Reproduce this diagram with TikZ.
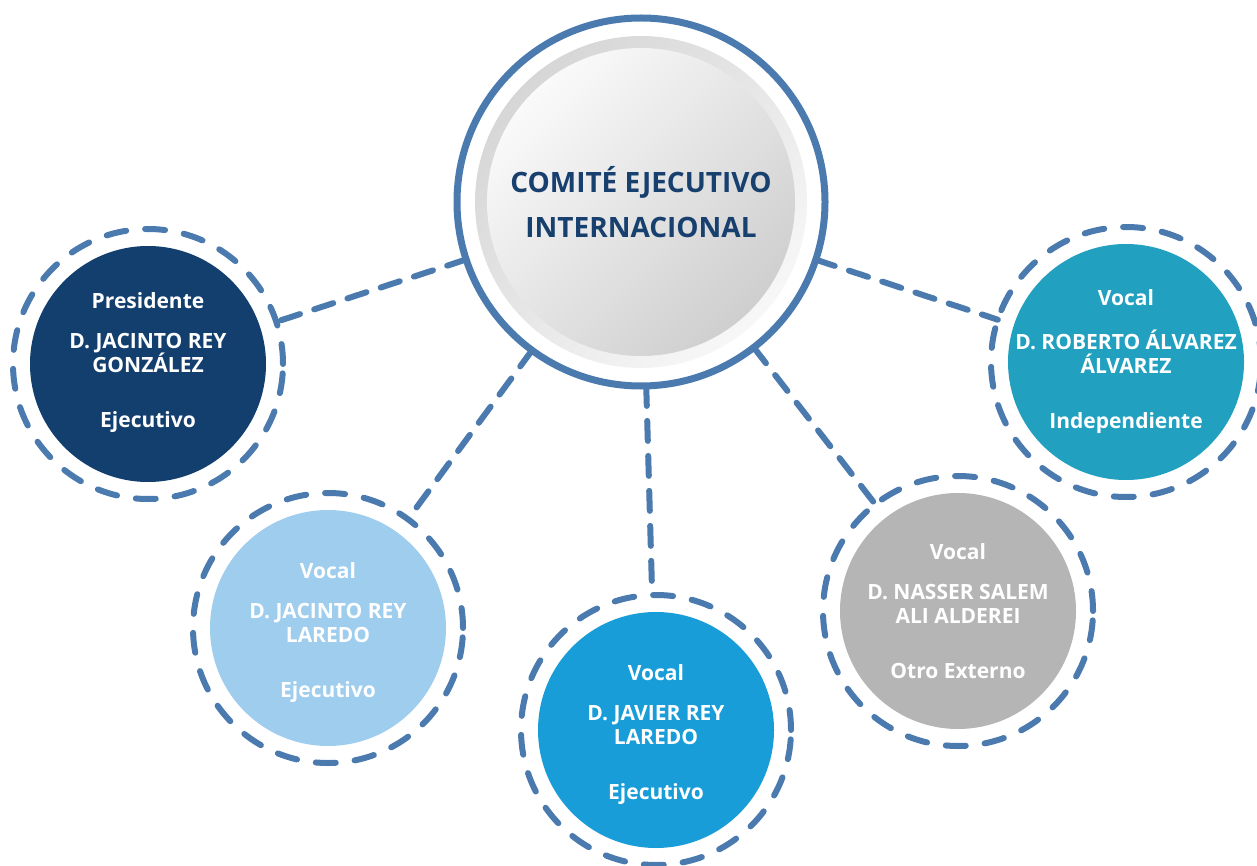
\documentclass[tikz,border=0pt]{standalone}
\usepackage{fontspec}
\setmainfont{Open Sans}
\usetikzlibrary{positioning}
\definecolor{ringblue}{HTML}{4A7AAE}
\definecolor{navy}{HTML}{133F6F}
\definecolor{skyblue}{HTML}{9ECDEE}
\definecolor{midblue}{HTML}{199DD8}
\definecolor{tealblue}{HTML}{22A0C0}
\definecolor{midgray}{HTML}{B5B5B5}
\definecolor{titleblue}{HTML}{17406F}

\begin{document}
\begin{tikzpicture}[x=1pt, y=-1pt,
        hub/.style={circle, draw=ringblue, line width=7pt, minimum size=368pt, inner sep=0pt, outer sep=0pt},
        ring/.style={circle, draw=ringblue, line width=6pt, dash pattern=on 20pt off 19pt, line cap=round, minimum size=270pt, inner sep=0pt, outer sep=0pt},
        disc/.style={circle, minimum size=236pt, inner sep=0pt},
        txt/.style={text=white, font=\fontsize{21}{24}\selectfont\bfseries, align=center},
        link/.style={draw=ringblue, line width=6pt, dash pattern=on 20pt off 15pt, line cap=round}]
        \useasboundingbox (0,0) rectangle (1257,866);

        % comite
        \node[hub] (hub) at (641,202) {};
        \shade[top color=gray!32, bottom color=gray!6, shading angle=45] (hub.center) circle[radius=166pt];
        \shade[top color=gray!4, bottom color=gray!38, shading angle=45] (hub.center) circle[radius=154pt];
        \node[text=titleblue, font=\fontsize{28}{45}\selectfont\bfseries, align=center] (title) at (641,206.5)
            {\strut COMITÉ EJECUTIVO\\INTERNACIONAL\strut};

        % miembros
        \foreach \n/\x/\y/\ty/\col/\role/\name/\kind in {
            p/148/364/363/navy/Presidente/D. JACINTO REY\\GONZÁLEZ/Ejecutivo,
            j/328/628/633/skyblue/Vocal/D. JACINTO REY\\LAREDO/Ejecutivo,
            v/656/730/735/midblue/Vocal/D. JAVIER REY\\LAREDO/Ejecutivo,
            s/958/611/614/midgray/Vocal/D. NASSER SALEM\\ALI ALDEREI/Otro Externo,
            r/1126/362/362/tealblue/Vocal/D. ROBERTO ÁLVAREZ\\ÁLVAREZ/Independiente}
        {
            \node[ring] (r\n) at (\x,\y) {};
            \node[disc, fill=\col] (d\n) at (r\n) {};
            \node[txt] (t\n) at (\x,\ty) {\strut\role\\[16pt]\name\\[31pt]\kind\strut};
            \draw[link] (hub) -- (r\n);
        }
\end{tikzpicture}
\end{document}
